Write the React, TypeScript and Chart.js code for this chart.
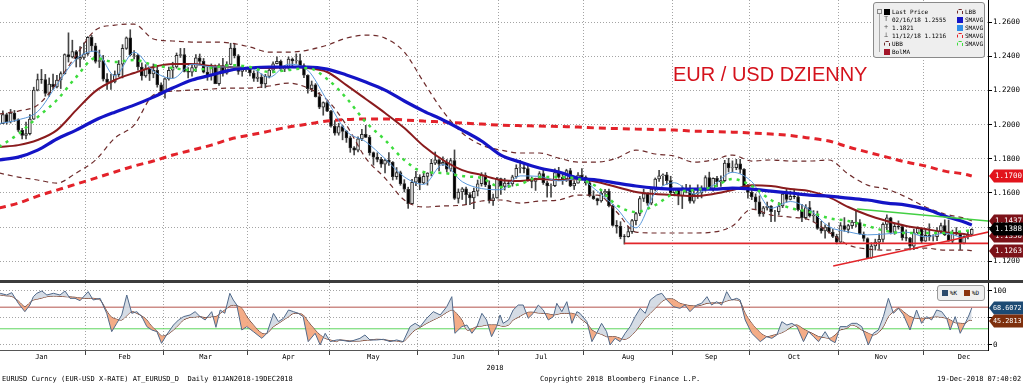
import React, { useEffect, useRef } from 'react';
import { Chart, registerables } from 'chart.js';
Chart.register(...registerables);

// ---------------- DATA ----------------
// Daily EUR/USD candles, 01 Jan 2018 - 19 Dec 2018 (weekdays), index 0 = 1 Jan
const open = [
  1.2005,1.2006,1.2058,1.2016,1.2068,1.2030,1.1967,1.1937,1.1947,1.2032,1.2202,1.2264,1.2263,1.2183,1.2237,1.2220,1.2261,1.2298,1.2409,1.2396,1.2427,1.2383,1.2393,
  1.2414,1.2511,1.2461,1.2369,1.2375,1.2266,1.2247,1.2250,1.2292,1.2354,1.2446,1.2507,1.2408,1.2406,1.2337,1.2285,1.2327,1.2296,1.2318,1.2233,
  1.2194,1.2268,1.2318,1.2337,1.2405,1.2410,1.2311,1.2307,1.2334,1.2390,1.2370,1.2307,1.2287,1.2337,1.2240,1.2345,1.2301,1.2352,1.2448,1.2403,1.2311,1.2323,
  1.2324,1.2302,1.2270,1.2278,1.2238,1.2282,1.2319,1.2356,1.2370,1.2326,1.2330,1.2383,1.2373,1.2374,1.2345,1.2289,1.2210,1.2233,1.2164,1.2102,1.2129,
  1.2079,1.1992,1.1950,1.1988,1.1960,1.1922,1.1864,1.1850,1.1917,1.1943,1.1925,1.1836,1.1810,1.1797,1.1769,1.1792,1.1779,1.1696,1.1720,1.1655,1.1622,1.1538,1.1663,
  1.1693,1.1659,1.1697,1.1717,1.1774,1.1794,1.1768,1.1780,1.1740,1.1790,1.1568,1.1606,1.1625,1.1590,1.1571,1.1610,1.1654,1.1703,1.1647,1.1555,1.1571,
  1.1684,1.1638,1.1658,1.1653,1.1694,1.1745,1.1748,1.1743,1.1673,1.1668,1.1686,1.1714,1.1660,1.1641,1.1643,1.1719,1.1692,1.1682,1.1731,1.1641,1.1657,1.1705,
  1.1691,1.1659,1.1584,1.1567,1.1553,1.1600,1.1610,1.1526,1.1411,1.1405,1.1345,1.1344,1.1374,1.1438,1.1480,1.1568,1.1597,1.1540,1.1623,1.1682,1.1701,1.1706,1.1672,
  1.1602,1.1621,1.1583,1.1628,1.1623,1.1552,1.1594,1.1601,1.1625,1.1690,1.1625,1.1686,1.1665,1.1672,1.1775,1.1746,1.1748,1.1771,1.1738,1.1641,
  1.1604,1.1577,1.1548,1.1477,1.1513,1.1524,1.1491,1.1491,1.1524,1.1593,1.1563,1.1580,1.1577,1.1502,1.1456,1.1514,1.1466,1.1471,1.1393,1.1378,1.1401,1.1372,1.1346,
  1.1312,1.1409,1.1387,1.1409,1.1430,1.1427,1.1360,1.1334,1.1222,1.1290,1.1313,1.1329,1.1416,1.1455,1.1370,1.1405,1.1403,1.1339,1.1336,1.1289,1.1367,1.1393,
  1.1318,1.1352,1.1343,1.1344,1.1376,1.1409,1.1355,1.1318,1.1370,1.1360,1.1306,1.1347,1.1357,
];
const high = [
  1.2034,1.2081,1.2067,1.2089,1.2083,1.2034,1.1979,1.2015,1.2059,1.2219,1.2296,1.2323,1.2294,1.2273,1.2296,1.2288,1.2309,1.2414,1.2537,1.2494,1.2434,1.2456,1.2478,
  1.2515,1.2522,1.2476,1.2436,1.2405,1.2298,1.2295,1.2314,1.2375,1.2468,1.2513,1.2555,1.2433,1.2411,1.2361,1.2351,1.2337,1.2355,1.2345,1.2244,
  1.2274,1.2336,1.2365,1.2419,1.2446,1.2446,1.2333,1.2357,1.2409,1.2413,1.2387,1.2336,1.2355,1.2349,1.2356,1.2388,1.2368,1.2476,1.2476,1.2410,1.2335,1.2336,
  1.2334,1.2315,1.2316,1.2297,1.2294,1.2339,1.2368,1.2396,1.2378,1.2345,1.2396,1.2390,1.2414,1.2412,1.2355,1.2292,1.2255,1.2240,1.2188,1.2133,1.2138,
  1.2084,1.2024,1.2008,1.1996,1.1965,1.1933,1.1872,1.1929,1.1973,1.1996,1.1937,1.1840,1.1835,1.1809,1.1799,1.1837,1.1784,1.1749,1.1728,1.1678,1.1634,1.1680,1.1726,
  1.1707,1.1721,1.1719,1.1797,1.1840,1.1797,1.1812,1.1796,1.1803,1.1852,1.1624,1.1632,1.1635,1.1603,1.1629,1.1676,1.1719,1.1718,1.1671,1.1594,1.1691,
  1.1687,1.1686,1.1674,1.1704,1.1765,1.1791,1.1769,1.1757,1.1694,1.1687,1.1725,1.1745,1.1669,1.1654,1.1741,1.1750,1.1712,1.1739,1.1744,1.1672,1.1720,1.1743,
  1.1700,1.1668,1.1613,1.1570,1.1618,1.1621,1.1623,1.1534,1.1439,1.1432,1.1357,1.1405,1.1446,1.1487,1.1580,1.1623,1.1602,1.1630,1.1688,1.1733,1.1712,1.1721,1.1698,
  1.1627,1.1627,1.1642,1.1651,1.1646,1.1609,1.1648,1.1642,1.1701,1.1722,1.1689,1.1698,1.1700,1.1791,1.1803,1.1788,1.1797,1.1797,1.1743,1.1651,
  1.1624,1.1595,1.1583,1.1522,1.1547,1.1527,1.1498,1.1544,1.1596,1.1622,1.1611,1.1622,1.1596,1.1533,1.1532,1.1551,1.1497,1.1494,1.1434,1.1414,1.1426,1.1387,1.1359,
  1.1427,1.1456,1.1417,1.1440,1.1500,1.1445,1.1372,1.1338,1.1309,1.1330,1.1361,1.1425,1.1472,1.1458,1.1420,1.1437,1.1410,1.1385,1.1341,1.1389,1.1402,1.1393,
  1.1384,1.1420,1.1356,1.1397,1.1424,1.1443,1.1442,1.1383,1.1398,1.1370,1.1350,1.1381,1.1391,
];
const low = [
  1.1995,1.2005,1.2003,1.2009,1.2018,1.1959,1.1916,1.1916,1.1940,1.2030,1.2197,1.2241,1.2166,1.2165,1.2205,1.2214,1.2211,1.2295,1.2366,1.2390,1.2337,1.2337,1.2381,
  1.2405,1.2427,1.2360,1.2334,1.2255,1.2206,1.2206,1.2244,1.2281,1.2273,1.2440,1.2401,1.2385,1.2319,1.2260,1.2277,1.2258,1.2274,1.2219,1.2188,
  1.2154,1.2260,1.2273,1.2330,1.2393,1.2308,1.2273,1.2283,1.2310,1.2357,1.2302,1.2259,1.2260,1.2239,1.2230,1.2283,1.2295,1.2350,1.2390,1.2294,1.2283,1.2311,
  1.2285,1.2253,1.2252,1.2216,1.2215,1.2273,1.2302,1.2355,1.2314,1.2310,1.2324,1.2345,1.2358,1.2340,1.2275,1.2184,1.2193,1.2161,1.2093,1.2055,1.2075,
  1.1985,1.1938,1.1938,1.1911,1.1896,1.1838,1.1823,1.1840,1.1906,1.1925,1.1821,1.1763,1.1782,1.1750,1.1717,1.1762,1.1676,1.1680,1.1645,1.1606,1.1510,1.1537,1.1643,
  1.1619,1.1654,1.1646,1.1700,1.1766,1.1729,1.1762,1.1723,1.1727,1.1562,1.1541,1.1562,1.1532,1.1531,1.1508,1.1583,1.1640,1.1637,1.1541,1.1527,1.1569,
  1.1591,1.1617,1.1632,1.1640,1.1686,1.1718,1.1718,1.1669,1.1630,1.1615,1.1681,1.1650,1.1575,1.1575,1.1637,1.1686,1.1650,1.1667,1.1637,1.1620,1.1657,1.1676,
  1.1646,1.1577,1.1562,1.1530,1.1546,1.1580,1.1518,1.1406,1.1365,1.1332,1.1301,1.1342,1.1363,1.1413,1.1467,1.1550,1.1528,1.1531,1.1612,1.1668,1.1645,1.1650,1.1585,
  1.1583,1.1531,1.1509,1.1600,1.1541,1.1540,1.1568,1.1571,1.1610,1.1621,1.1610,1.1637,1.1638,1.1667,1.1723,1.1723,1.1736,1.1714,1.1641,1.1570,
  1.1561,1.1506,1.1464,1.1463,1.1500,1.1432,1.1433,1.1471,1.1514,1.1546,1.1559,1.1566,1.1495,1.1432,1.1446,1.1459,1.1431,1.1387,1.1365,1.1336,1.1365,1.1339,1.1302,
  1.1310,1.1376,1.1367,1.1393,1.1402,1.1357,1.1318,1.1216,1.1217,1.1266,1.1273,1.1312,1.1385,1.1360,1.1358,1.1388,1.1324,1.1320,1.1267,1.1268,1.1360,1.1305,
  1.1317,1.1322,1.1319,1.1321,1.1362,1.1351,1.1318,1.1309,1.1354,1.1269,1.1302,1.1332,1.1354,
];
const close = [
  1.2006,1.2058,1.2016,1.2068,1.2030,1.1967,1.1937,1.1947,1.2032,1.2202,1.2264,1.2263,1.2183,1.2237,1.2220,1.2261,1.2298,1.2409,1.2396,1.2427,1.2383,1.2393,1.2414,
  1.2511,1.2461,1.2369,1.2375,1.2266,1.2247,1.2250,1.2292,1.2354,1.2446,1.2507,1.2408,1.2406,1.2337,1.2285,1.2327,1.2296,1.2318,1.2233,1.2194,
  1.2268,1.2318,1.2337,1.2405,1.2410,1.2311,1.2307,1.2334,1.2390,1.2370,1.2307,1.2287,1.2337,1.2240,1.2345,1.2301,1.2352,1.2448,1.2403,1.2311,1.2323,1.2324,
  1.2302,1.2270,1.2278,1.2238,1.2282,1.2319,1.2356,1.2370,1.2326,1.2330,1.2383,1.2373,1.2374,1.2345,1.2289,1.2210,1.2233,1.2164,1.2102,1.2129,1.2079,
  1.1992,1.1950,1.1988,1.1960,1.1922,1.1864,1.1850,1.1917,1.1943,1.1925,1.1836,1.1810,1.1797,1.1769,1.1792,1.1779,1.1696,1.1720,1.1655,1.1622,1.1538,1.1663,1.1693,
  1.1659,1.1697,1.1717,1.1774,1.1794,1.1768,1.1780,1.1740,1.1790,1.1568,1.1606,1.1625,1.1590,1.1571,1.1610,1.1654,1.1703,1.1647,1.1555,1.1571,1.1684,
  1.1638,1.1658,1.1653,1.1694,1.1745,1.1748,1.1743,1.1673,1.1668,1.1686,1.1714,1.1660,1.1641,1.1643,1.1719,1.1692,1.1682,1.1731,1.1641,1.1657,1.1705,1.1691,
  1.1659,1.1584,1.1567,1.1553,1.1600,1.1610,1.1526,1.1411,1.1405,1.1345,1.1344,1.1374,1.1438,1.1480,1.1568,1.1597,1.1540,1.1623,1.1682,1.1701,1.1706,1.1672,1.1602,
  1.1621,1.1583,1.1628,1.1623,1.1552,1.1594,1.1601,1.1625,1.1690,1.1625,1.1686,1.1665,1.1672,1.1775,1.1746,1.1748,1.1771,1.1738,1.1641,1.1604,
  1.1577,1.1548,1.1477,1.1513,1.1524,1.1491,1.1491,1.1524,1.1593,1.1563,1.1580,1.1577,1.1502,1.1456,1.1514,1.1466,1.1471,1.1393,1.1378,1.1401,1.1372,1.1346,1.1312,
  1.1409,1.1387,1.1409,1.1430,1.1427,1.1360,1.1334,1.1222,1.1290,1.1313,1.1329,1.1416,1.1455,1.1370,1.1405,1.1403,1.1339,1.1336,1.1289,1.1367,1.1393,1.1318,
  1.1352,1.1343,1.1344,1.1376,1.1409,1.1355,1.1318,1.1370,1.1360,1.1306,1.1347,1.1357,1.1388,
];

// Overlay studies at these day indices
const maDays = [0,5,10,15,20,25,30,35,40,45,50,55,60,65,70,75,80,85,90,95,100,105,110,115,120,125,130,135,140,145,150,155,160,165,170,175,180,185,190,195,200,205,210,215,220,225,230,235,240,245,250,252];
const sma5 = [1.2006,1.2028,1.2076,1.2233,1.2383,1.2430,1.2286,1.2424,1.2313,1.2270,1.2353,1.2338,1.2337,1.2333,1.2277,1.2353,1.2318,1.2141,1.1962,1.1900,1.1801,1.1694,1.1650,1.1767,1.1666,1.1626,1.1619,1.1700,1.1697,1.1671,1.1683,1.1611,1.1510,1.1396,1.1602,1.1660,1.1596,1.1645,1.1721,1.1666,1.1511,1.1550,1.1503,1.1403,1.1373,1.1355,1.1361,1.1371,1.1344,1.1365,1.1340,1.1352];
const sma10 = [1.1869,1.1945,1.2044,1.2144,1.2278,1.2389,1.2366,1.2378,1.2348,1.2331,1.2319,1.2331,1.2348,1.2337,1.2308,1.2319,1.2331,1.2267,1.2155,1.2015,1.1910,1.1793,1.1723,1.1717,1.1699,1.1687,1.1635,1.1652,1.1693,1.1693,1.1682,1.1635,1.1529,1.1489,1.1529,1.1600,1.1617,1.1635,1.1682,1.1641,1.1559,1.1512,1.1489,1.1453,1.1436,1.1407,1.1377,1.1366,1.1366,1.1366,1.1377,1.1383];
const sma50 = [1.1793,1.1810,1.1851,1.1916,1.1968,1.2027,1.2073,1.2114,1.2161,1.2214,1.2261,1.2290,1.2319,1.2331,1.2337,1.2337,1.2337,1.2325,1.2290,1.2249,1.2202,1.2138,1.2079,1.2027,1.1968,1.1904,1.1822,1.1781,1.1746,1.1723,1.1687,1.1676,1.1658,1.1641,1.1629,1.1623,1.1623,1.1623,1.1629,1.1623,1.1611,1.1600,1.1588,1.1582,1.1570,1.1559,1.1541,1.1529,1.1506,1.1465,1.1430,1.1412];
const sma200 = [1.1512,1.1541,1.1582,1.1617,1.1652,1.1687,1.1723,1.1758,1.1787,1.1822,1.1851,1.1880,1.1916,1.1939,1.1962,1.1986,1.2003,1.2021,1.2030,1.2033,1.2033,1.2027,1.2021,1.2015,1.2009,1.2003,1.1997,1.1994,1.1992,1.1989,1.1986,1.1980,1.1977,1.1974,1.1971,1.1968,1.1962,1.1959,1.1956,1.1951,1.1945,1.1936,1.1921,1.1904,1.1869,1.1839,1.1810,1.1781,1.1758,1.1728,1.1711,1.1700];
const bolMA = [1.1869,1.1880,1.1910,1.1968,1.2085,1.2196,1.2261,1.2302,1.2337,1.2354,1.2354,1.2343,1.2337,1.2331,1.2331,1.2337,1.2331,1.2308,1.2231,1.2150,1.2068,1.1980,1.1875,1.1793,1.1734,1.1705,1.1676,1.1670,1.1682,1.1676,1.1682,1.1664,1.1635,1.1606,1.1594,1.1588,1.1582,1.1594,1.1617,1.1646,1.1641,1.1623,1.1611,1.1576,1.1518,1.1471,1.1436,1.1407,1.1389,1.1371,1.1360,1.1350];
const upperBB = [1.2062,1.2079,1.2114,1.2243,1.2407,1.2553,1.2582,1.2588,1.2501,1.2489,1.2483,1.2483,1.2477,1.2454,1.2424,1.2424,1.2436,1.2465,1.2506,1.2524,1.2506,1.2424,1.2249,1.2079,1.1951,1.1880,1.1851,1.1834,1.1834,1.1804,1.1781,1.1781,1.1804,1.1851,1.1828,1.1816,1.1781,1.1793,1.1822,1.1787,1.1793,1.1787,1.1787,1.1793,1.1711,1.1646,1.1623,1.1576,1.1518,1.1477,1.1453,1.1437];
const lowerBB = [1.1717,1.1693,1.1676,1.1658,1.1717,1.1793,1.1921,1.1997,1.2173,1.2196,1.2202,1.2208,1.2214,1.2214,1.2226,1.2243,1.2214,1.2144,1.1997,1.1804,1.1687,1.1559,1.1518,1.1524,1.1529,1.1553,1.1559,1.1541,1.1553,1.1559,1.1588,1.1588,1.1489,1.1371,1.1366,1.1366,1.1366,1.1371,1.1407,1.1506,1.1471,1.1459,1.1442,1.1371,1.1296,1.1272,1.1266,1.1272,1.1278,1.1266,1.1266,1.1263];

// Hand-drawn trend lines (day index, price)
const supportDays = [162, 256.2];
const supportLevel = [1.1305, 1.1305];
const risingDays = [216.1, 256.2];
const risingLevel = [1.1173, 1.1371];
const greenTrendDays = [222.3, 256.2];
const greenTrendLevel = [1.1506, 1.1436];

// Stochastic oscillator (%K, %D)
const oscDays = [
  0.3,2.0,3.3,5.0,6.7,8.0,8.9,9.8,11.1,12.4,14.1,15.8,17.1,18.4,19.7,21.0,23.1,24.4,26.2,27.9,29.2,30.5,31.8,33.1,34.4,35.7,37.0,38.3,39.6,40.9,42.1,43.4,45.2,46.5,47.8,49.5,50.8,52.1,53.4,55.1,56.2,57.3,58.5,59.8,60.7,61.6,62.9,64.2,65.9,68.1,69.4,71.1,72.4,73.7,75.0,76.3,77.5,78.8,80.1,81.9,83.2,84.5,85.8,87.5,
  88.3,90.9,93.5,94.8,96.1,97.8,99.6,101.3,103.0,104.7,106.5,107.8,109.1,110.8,112.5,114.3,116.0,117.3,118.1,119.9,121.2,122.5,123.8,125.1,126.3,127.6,128.9,129.8,130.6,132.0,133.2,134.5,135.8,137.1,138.4,139.7,141.0,142.3,143.6,144.5,145.8,147.1,148.4,149.7,150.5,152.3,153.6,154.8,156.1,157.4,158.3,159.6,160.9,162.2,163.5,164.8,166.1,167.4,168.7,170.4,171.7,173.0,174.7,176.4,
  177.7,179.0,180.7,182.0,183.4,184.6,185.9,187.2,188.5,189.8,191.1,192.0,193.3,195.0,197.2,198.9,200.2,201.5,202.8,204.1,205.4,206.7,208.4,209.7,211.0,212.3,214.0,215.3,216.6,217.9,219.6,220.9,222.2,223.5,225.2,226.5,227.8,229.1,230.4,231.7,233.0,234.3,236.0,237.7,239.0,240.3,241.6,242.9,244.2,245.5,246.4,247.7,249.0,250.3,251.3,252,
];
const stochK = [
  95.7,92.6,96.9,77.2,61.7,74,89.5,95.7,100,92.6,95.7,92.6,100,86.4,86.4,82.1,98.8,83.3,86.4,58.6,24.7,40.1,55.6,92.6,58.6,61.7,52.5,34,27.8,24.7,3.1,18.5,37,46.3,52.5,55.6,61.7,52.5,46.3,61.7,32.7,64.8,58.6,95.7,83.3,74,27.8,34,24.7,12.3,21.6,58.6,43.2,49.4,64.8,61.7,58.6,52.5,6.2,21.6,0,21.6,6.2,9.3,
  9.3,6.2,12.3,18.5,9.3,9.3,10.5,6.2,9.3,6.2,34,40.1,34,49.4,61.7,55.6,71,89.5,21.6,34,37,21.6,34,58.6,46.3,15.4,34,55.6,40.1,46.3,64.8,74,74,49.4,58.6,74,64.8,46.3,52.5,77.2,61.7,80.2,40.1,61.7,58.6,43.2,6.2,21.6,40.1,24.7,0,12.3,6.2,21.6,34,52.5,67.9,58.6,83.3,92.6,95.7,83.3,71,67.9,
  74,61.7,74,77.2,89.5,74,80.2,74,98.8,83.3,86.4,83.3,46.3,21.6,6.2,15.4,12.3,18.5,43.2,37,40.1,34,6.2,24.7,15.4,6.2,24.7,9.3,4.3,34,34,40.1,40.1,34,0,21.6,27.8,52.5,86.4,58.6,67.9,55.6,27.8,64.8,40.1,52.5,46.3,64.8,61.7,49.4,27.8,52.5,21.6,40.1,55.6,68.6072,
];
const stochD = [
  92.6,91,90.1,81.5,71,78.4,83.3,84.8,87,89.5,90.7,90.1,89.5,89,88.3,87,86.4,86.4,83.3,63,51.2,47.5,46.3,54.3,61.7,58.6,53.7,46.3,34,25.9,16.7,18.5,27.8,37,46.3,51.2,51.9,52.5,50.6,52.5,52.5,58.6,64.8,72.2,74,72.8,67.9,52.5,37,21.6,21.6,34,40.1,46.3,52.5,58.6,58.6,55.6,43.2,27.8,18.5,12.3,9.3,6.2,
  9.3,7.4,7.4,8.6,9.3,10.5,9.9,8,7.4,6.2,18.5,27.8,32.7,40.1,46.3,52.5,60.5,64.8,61.7,46.3,27.8,29.6,34,35.2,37,37,37,35.8,34.6,37,46.3,51.2,56.8,60.5,60.5,59.3,58.6,57.4,55.6,56.8,58.6,58.6,58.6,55.6,49.4,40.1,27.8,22.8,19.8,15.4,15.4,15.4,12.3,10.5,15.4,24.7,37,49.4,58.6,71,80.2,85.2,84.6,77.2,
  74.7,72.8,72.2,74,77.2,77.8,77.8,78.4,81.5,83.9,83.3,80.2,58.6,40.1,22.8,15.4,17.3,19.8,22.8,27.8,34,37,29.6,24.7,20.4,15.4,13.6,12.3,18.5,27.8,30.9,37,34,27.8,21.6,18.5,22.8,34,52.5,61.7,67.9,61.7,52.5,49.4,49.4,49.4,51.2,52.5,51.2,49.4,46.3,41.4,40.1,40.1,45.7,45.2813,
];
const stochOverbought = 70;
const stochOversold = 30;

// Axes
const monthLabels = ['Jan','Feb','Mar','Apr','May','Jun','Jul','Aug','Sep','Oct','Nov','Dec'];
const monthStart = [0,23,43,65,86,109,130,152,175,195,218,240]; // first trading-day index of each month
const monthDays = [23,20,22,21,23,21,22,23,20,23,22,21];
const yearLabel = '2018';
const yearLabelDay = 128.5;
const priceTicks = [1.12,1.14,1.16,1.18,1.20,1.22,1.24,1.26];
const oscTicks = [0,50,100];
const oscTickText = ['0','','100'];

// ---------------- LAYOUT / STYLE ----------------
const X_MIN = 0.26, X_MAX = 256.2;
const Y_MIN = 1.1091, Y_MAX = 1.2729;
const MONO = '"DejaVu Sans Mono", monospace';
const SANS = '"Liberation Sans", Arial, sans-serif';
const GRID = '#a4a4a4';

const pts = (xs: number[], ys: number[]) => xs.map((x, i) => ({ x, y: ys[i] }));
const boundaries = monthStart.map((s) => s - 0.5).filter((v) => v > X_MIN);
const centers = monthStart.map((s, i) => s - 0.5 + monthDays[i] / 2);

function tagPlugin(id: string, tags: { value: number; bg: string }[], fontSize: number, textOffset: number) {
  return {
    id,
    afterDraw(chart: any) {
      const { ctx, chartArea } = chart;
      const ys = chart.scales.y;
      const x0 = chartArea.right + 1;
      const x1 = chart.width;
      ctx.save();
      ctx.font = `${fontSize}px ${MONO}`;
      ctx.textBaseline = 'middle';
      ctx.textAlign = 'left';
      for (const t of tags) {
        const py = Math.round(ys.getPixelForValue(t.value));
        const h = 6.5;
        ctx.beginPath();
        ctx.moveTo(x0, py);
        ctx.lineTo(x0 + 5, py - h);
        ctx.lineTo(x1, py - h);
        ctx.lineTo(x1, py + h);
        ctx.lineTo(x0 + 5, py + h);
        ctx.closePath();
        ctx.fillStyle = t.bg;
        ctx.fill();
        ctx.fillStyle = '#ffffff';
        ctx.fillText(t.value.toFixed(4), x0 + textOffset, py + 0.5);
      }
      ctx.restore();
    },
  };
}

const lineDs = (label: string, data: any[], color: string, width: number, order: number, dash: number[] = []) => ({
  type: 'line',
  label,
  data,
  borderColor: color,
  borderWidth: width,
  borderDash: dash,
  pointRadius: 0,
  fill: false,
  cubicInterpolationMode: 'monotone',
  order,
});

function mainConfig(): any {
  const last = (a: number[]) => a[a.length - 1];
  return {
    type: 'line',
    data: {
      datasets: [
        lineDs('Trend (green)', pts(greenTrendDays, greenTrendLevel), '#43cf43', 1.6, 0),
        lineDs('Support', pts(supportDays, supportLevel), '#e2262b', 1.6, 0),
        lineDs('Rising trend', pts(risingDays, risingLevel), '#e2262b', 1.6, 0),
        lineDs('SMAVG 10', pts(maDays, sma10), '#3ddc3d', 2.5, 1, [3, 5]),
        lineDs('SMAVG 50', pts(maDays, sma50), '#1414c6', 3.2, 2),
        lineDs('SMAVG 5', pts(maDays, sma5), '#5a98da', 1, 3),
        lineDs('BolMA', pts(maDays, bolMA), '#8a1b1d', 2, 4),
        lineDs('SMAVG 200', pts(maDays, sma200), '#e3222a', 3, 5, [7, 5]),
        lineDs('UBB', pts(maDays, upperBB), '#6e2b2b', 1.2, 6, [5, 4]),
        lineDs('LBB', pts(maDays, lowerBB), '#6e2b2b', 1.2, 6, [5, 4]),
        {
          type: 'bar',
          label: 'Body',
          data: close.map((c, i) => ({ x: i, y: [open[i], c] })),
          barThickness: 3,
          grouped: false,
          borderSkipped: false,
          borderWidth: 1,
          borderColor: '#2a2a2a',
          backgroundColor: (c: any) => {
            const i = c.dataIndex;
            if (i == null) return '#000';
            return close[i] >= open[i] ? '#e8e8e8' : '#000000';
          },
          order: 8,
        },
        {
          type: 'bar',
          label: 'Wick',
          data: close.map((c, i) => ({ x: i, y: [low[i], high[i]] })),
          barThickness: 1,
          grouped: false,
          borderWidth: 0,
          backgroundColor: '#454545',
          order: 9,
        },
      ],
    },
    options: {
      responsive: false,
      maintainAspectRatio: false,
      animation: false,
      events: [],
      layout: { padding: 0 },
      plugins: { legend: { display: false }, tooltip: { enabled: false } },
      scales: {
        x: {
          type: 'linear',
          min: X_MIN,
          max: X_MAX,
          offset: false,
          afterBuildTicks: (s: any) => { s.ticks = boundaries.map((v) => ({ value: v })); },
          ticks: { display: false },
          grid: { color: GRID, lineWidth: 1, drawTicks: false, offset: false },
          border: { display: false, dash: [1, 2] },
        },
        y: {
          type: 'linear',
          position: 'right',
          min: Y_MIN,
          max: Y_MAX,
          afterBuildTicks: (s: any) => { s.ticks = priceTicks.map((v) => ({ value: v })); },
          afterFit: (s: any) => { s.width = 35; s.paddingTop = 0; s.paddingBottom = 0; },
          ticks: { callback: (v: any) => Number(v).toFixed(4), font: { family: MONO, size: 7.5 }, color: '#000', padding: 1 },
          grid: { color: GRID, lineWidth: 1, drawTicks: true, tickLength: 4, tickColor: '#000', tickWidth: 1 },
          border: { display: true, color: '#000', width: 1, dash: [1, 2] },
        },
      },
    },
    plugins: [
      tagPlugin('mainTags', [
        { value: last(sma200), bg: '#e2141c' },
        { value: last(upperBB), bg: '#7c1219' },
        { value: last(bolMA), bg: '#7c1219' },
        { value: last(close), bg: '#000000' },
        { value: last(lowerBB), bg: '#7c1219' },
      ], 7.5, 6),
    ],
  };
}

function oscConfig(): any {
  const last = (a: number[]) => a[a.length - 1];
  const axisFont = { family: MONO, size: 7 };
  return {
    type: 'line',
    data: {
      datasets: [
        {
          label: '%K',
          data: pts(oscDays, stochK),
          borderColor: '#50698a',
          borderWidth: 1,
          pointRadius: 0,
          tension: 0,
          fill: { target: '+1', above: 'rgba(208,216,226,0.9)', below: 'rgba(243,163,122,0.9)' },
          xAxisID: 'x',
          order: 1,
        },
        {
          label: '%D',
          data: pts(oscDays, stochD),
          borderColor: '#5b2a1c',
          borderWidth: 1,
          pointRadius: 0,
          tension: 0.3,
          fill: false,
          xAxisID: 'x',
          order: 2,
        },
        {
          label: 'Overbought',
          data: [{ x: X_MIN, y: stochOverbought }, { x: X_MAX, y: stochOverbought }],
          borderColor: '#b4544c',
          borderWidth: 1,
          pointRadius: 0,
          fill: false,
          xAxisID: 'x',
          order: 3,
        },
        {
          label: 'Oversold',
          data: [{ x: X_MIN, y: stochOversold }, { x: X_MAX, y: stochOversold }],
          borderColor: '#5ed65e',
          borderWidth: 1,
          pointRadius: 0,
          fill: false,
          xAxisID: 'x',
          order: 3,
        },
      ],
    },
    options: {
      responsive: false,
      maintainAspectRatio: false,
      animation: false,
      events: [],
      layout: { padding: 0 },
      plugins: { legend: { display: false }, tooltip: { enabled: false } },
      scales: {
        x: {
          type: 'linear',
          position: 'bottom',
          weight: 0,
          min: X_MIN,
          max: X_MAX,
          offset: false,
          afterBuildTicks: (s: any) => { s.ticks = boundaries.map((v) => ({ value: v })); },
          afterFit: (s: any) => { s.height = 2; },
          ticks: { display: false },
          grid: { color: GRID, lineWidth: 1, drawTicks: true, tickLength: 5, tickColor: '#444', offset: false },
          border: { display: true, color: '#555', width: 1, dash: [1, 2] },
        },
        x2: {
          type: 'linear',
          position: 'bottom',
          weight: 1,
          min: X_MIN,
          max: X_MAX,
          offset: false,
          afterBuildTicks: (s: any) => { s.ticks = centers.map((v) => ({ value: v })); },
          afterFit: (s: any) => { s.height = 11; s.paddingLeft = 0; s.paddingRight = 0; },
          ticks: { callback: (_v: any, i: number) => monthLabels[i], font: axisFont, color: '#000', padding: 1, autoSkip: false, maxRotation: 0, minRotation: 0 },
          grid: { display: false, drawTicks: false },
          border: { display: false },
        },
        x3: {
          type: 'linear',
          position: 'bottom',
          weight: 2,
          min: X_MIN,
          max: X_MAX,
          offset: false,
          afterBuildTicks: (s: any) => { s.ticks = [{ value: yearLabelDay }]; },
          afterFit: (s: any) => { s.height = 13; s.paddingLeft = 0; s.paddingRight = 0; },
          ticks: { callback: () => yearLabel, font: axisFont, color: '#000', padding: 1, autoSkip: false, maxRotation: 0, minRotation: 0 },
          grid: { display: false, drawTicks: false },
          border: { display: false },
        },
        y: {
          type: 'linear',
          position: 'right',
          min: -9.3,
          max: 114.8,
          afterBuildTicks: (s: any) => { s.ticks = oscTicks.map((v) => ({ value: v })); },
          afterFit: (s: any) => { s.width = 35; s.paddingTop = 0; s.paddingBottom = 0; },
          ticks: { callback: (_v: any, i: number) => oscTickText[i], font: { family: MONO, size: 7.5 }, color: '#000', padding: 1 },
          grid: { color: GRID, lineWidth: 1, drawTicks: true, tickLength: 4, tickColor: '#000' },
          border: { display: true, color: '#000', width: 1, dash: [1, 2] },
        },
      },
    },
    plugins: [
      tagPlugin('oscTags', [
        { value: last(stochK), bg: '#1d4b74' },
        { value: last(stochD), bg: '#7e2f0d' },
      ], 6.8, 4),
    ],
  };
}

// ---------------- COMPONENT ----------------
const legendLeft = [
  { icon: 'sq', color: '#000000', text: 'Last Price' },
  { icon: 'T', color: '#555', text: '02/16/18 1.2555' },
  { icon: '+', color: '#555', text: '1.1821' },
  { icon: '\u22A5', color: '#555', text: '11/12/18 1.1216' },
  { icon: 'dash', color: '#6e2b2b', text: 'UBB' },
  { icon: 'sq', color: '#a3162a', text: 'BolMA' },
];
const legendRight = [
  { icon: 'dash', color: '#6e2b2b', text: 'LBB' },
  { icon: 'sq', color: '#1414c6', text: 'SMAVG' },
  { icon: 'sq', color: '#2f8fe8', text: 'SMAVG' },
  { icon: 'dash', color: '#e3222a', text: 'SMAVG' },
  { icon: 'dash', color: '#3ddc3d', text: 'SMAVG' },
];

function LegendRow({ item, x, y }: any) {
  let icon: any;
  if (item.icon === 'sq') {
    icon = <div style={{ position: 'absolute', left: x, top: y + 1, width: 6, height: 6, background: item.color }} />;
  } else if (item.icon === 'dash') {
    icon = <div style={{ position: 'absolute', left: x, top: y + 1, width: 6, height: 5, borderTop: `1px dashed ${item.color}`, borderLeft: `1px dashed ${item.color}`, borderRight: `1px dashed ${item.color}`, borderRadius: '2px 2px 0 0', boxSizing: 'border-box' }} />;
  } else {
    icon = <div style={{ position: 'absolute', left: x, top: y - 1, fontSize: 7, lineHeight: '9px', color: item.color, fontFamily: MONO }}>{item.icon}</div>;
  }
  return (
    <>
      {icon}
      <div style={{ position: 'absolute', left: x + 8, top: y, fontSize: 6, lineHeight: '8px', fontFamily: MONO, color: '#000', whiteSpace: 'pre' }}>{item.text}</div>
    </>
  );
}

export default function App() {
  const mainRef = useRef<HTMLCanvasElement>(null);
  const oscRef = useRef<HTMLCanvasElement>(null);

  useEffect(() => {
    const main = new Chart(mainRef.current as HTMLCanvasElement, mainConfig());
    const osc = new Chart(oscRef.current as HTMLCanvasElement, oscConfig());
    return () => {
      main.destroy();
      osc.destroy();
    };
  }, []);

  const txt = (x: number, y: number, size: number, s: string, extra: any = {}) => (
    <div style={{ position: 'absolute', left: x, top: y, fontSize: size, lineHeight: `${size + 1}px`, fontFamily: MONO, color: '#000', whiteSpace: 'pre', ...extra }}>{s}</div>
  );

  return (
    <div style={{ position: 'absolute', left: 0, top: 0, width: 1023, height: 384, background: '#ffffff', overflow: 'hidden' }}>
      <canvas ref={mainRef} width={1023} height={280} style={{ position: 'absolute', left: 0, top: 0, display: 'block' }} />
      <div style={{ position: 'absolute', left: 0, top: 280, width: 1023, height: 3, background: '#3c3c3c' }} />
      <canvas ref={oscRef} width={1023} height={93} style={{ position: 'absolute', left: 0, top: 283, display: 'block' }} />

      {/* chart title */}
      <div style={{ position: 'absolute', left: 673, top: 64, fontSize: 20, lineHeight: '20px', fontFamily: SANS, color: '#d4121c', whiteSpace: 'nowrap' }}>EUR / USD DZIENNY</div>

      {/* main legend */}
      <div style={{ position: 'absolute', left: 873, top: 2, width: 112, height: 56, background: '#eeeeee', border: '1px solid #8a8a8a', borderRadius: 3, boxSizing: 'border-box' }}>
        <div style={{ position: 'absolute', left: 3, top: 6, width: 5, height: 5, border: '1px solid #888', boxSizing: 'border-box' }} />
        <div style={{ position: 'absolute', left: 5, top: 11, width: 1, height: 38, background: '#aaa' }} />
        {legendLeft.map((it, i) => <LegendRow key={'l' + i} item={it} x={10} y={5 + i * 8} />)}
        {legendRight.map((it, i) => <LegendRow key={'r' + i} item={it} x={83} y={5 + i * 8} />)}
      </div>

      {/* oscillator legend */}
      <div style={{ position: 'absolute', left: 937, top: 285, width: 48, height: 16, background: '#f0f0f0', border: '1px solid #9a9a9a', borderRadius: 3, boxSizing: 'border-box' }}>
        <div style={{ position: 'absolute', left: 4, top: 4, width: 6, height: 6, background: '#2b4a6b' }} />
        <div style={{ position: 'absolute', left: 12, top: 3, fontSize: 6, lineHeight: '8px', fontFamily: MONO }}>%K</div>
        <div style={{ position: 'absolute', left: 26, top: 4, width: 6, height: 6, background: '#8b3510' }} />
        <div style={{ position: 'absolute', left: 34, top: 3, fontSize: 6, lineHeight: '8px', fontFamily: MONO }}>%D</div>
      </div>

      {/* footer */}
      {txt(2, 375, 7, 'EURUSD Curncy (EUR-USD X-RATE) AT_EURUSD_D  Daily 01JAN2018-19DEC2018')}
      {txt(540, 375, 7, 'Copyright\u00A9 2018 Bloomberg Finance L.P.')}
      {txt(937, 375, 7, '19-Dec-2018 07:40:02')}
    </div>
  );
}
